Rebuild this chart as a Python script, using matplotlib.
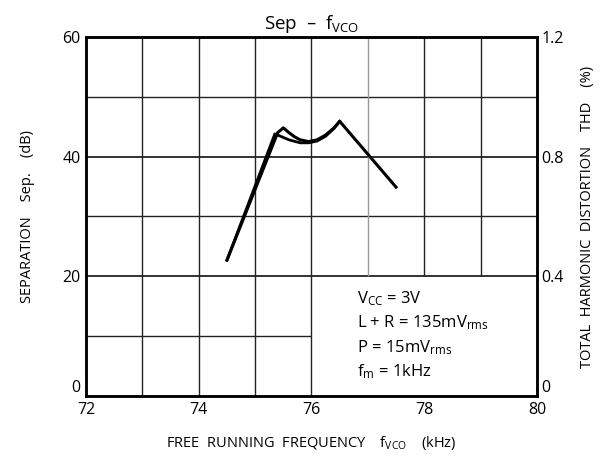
import numpy as np
import matplotlib
matplotlib.use("Agg")
import matplotlib.pyplot as plt

plt.rcParams['font.family'] = ['Open Sans', 'DejaVu Sans']
plt.rcParams['mathtext.default'] = 'regular'

# curve (drawn twice in the original, slightly offset near the first peak)
freq_a = [74.5, 75.4, 75.5, 75.6, 75.7, 75.8, 75.95, 76.1, 76.25, 76.4, 76.5, 77.5]
sep_a = [22.7, 44.0, 44.8, 44.0, 43.3, 42.8, 42.5, 42.8, 43.6, 44.8, 45.9, 34.9]
freq_b = [74.5, 75.35, 75.45, 75.6, 75.8, 75.95, 76.1, 76.25, 76.4, 76.5]
sep_b = [22.7, 43.8, 43.4, 42.8, 42.3, 42.3, 42.6, 43.4, 44.7, 45.9]

x_ticks = [72, 74, 76, 78, 80]
y_ticks = [0, 20, 40, 60]
thd_ticks = [0, 0.4, 0.8, 1.2]
thd_labels = ["0", "0.4", "0.8", "1.2"]

conditions = [r"$V_{CC}$ = 3V",
              r"L + R = 135m$V_{rms}$",
              r"P = 15m$V_{rms}$",
              r"$f_m$ = 1kHz"]

fig = plt.figure(figsize=(6.15, 4.61), dpi=100)
ax = fig.add_axes([0.14, 0.141, 0.733, 0.779])
ax.set_xlim(72, 80)
ax.set_ylim(0, 60)

# grid (partial lines where the condition box sits)
gc = '#222222'
ax.hlines([20, 40], 72, 80, color=gc, lw=1.3, zorder=1)
ax.hlines([30, 50], 72, 80, color=gc, lw=1.0, zorder=1)
ax.hlines([10], 72, 76, color=gc, lw=1.0, zorder=1)
ax.vlines([73, 74, 75, 76], 0, 60, color=gc, lw=1.0, zorder=1)
ax.vlines([77], 20, 60, color='#999999', lw=1.0, zorder=1)
ax.vlines([78, 79], 20, 60, color=gc, lw=1.0, zorder=1)

ax.plot(freq_a, sep_a, color='black', lw=2.2, zorder=3, solid_joinstyle='round')
ax.plot(freq_b, sep_b, color='black', lw=2.0, zorder=3, solid_joinstyle='round')

ax.set_xticks(x_ticks)
ax.set_yticks(y_ticks)
ax.tick_params(length=0, labelsize=11.5, pad=4)
for s in ax.spines.values():
    s.set_linewidth(1.8)

ax2 = ax.twinx()
ax2.set_ylim(0, 1.2)
ax2.set_yticks(thd_ticks)
ax2.set_yticklabels(thd_labels)
ax2.tick_params(length=0, labelsize=11.5, pad=3)
for s in ax2.spines.values():
    s.set_linewidth(1.8)

# the "0" labels sit just above the bottom edge, as in the original
ax.get_yticklabels()[0].set_verticalalignment('bottom')
ax2.get_yticklabels()[0].set_verticalalignment('bottom')

ax.set_title(r"Sep  –  $f_{VCO}$", fontsize=13.5, pad=6)
ax.set_xlabel(r"FREE  RUNNING  FREQUENCY    $f_{VCO}$    (kHz)", fontsize=10.5, labelpad=12)
ax.set_ylabel("SEPARATION    Sep.    (dB)", fontsize=10.5, labelpad=20)
ax2.set_ylabel("TOTAL  HARMONIC  DISTORTION    THD    (%)", fontsize=10.5, labelpad=12)

for i, t in enumerate(conditions):
    ax.text(76.8, 16.3 - i * 4.1, t, fontsize=12, va='center', ha='left')

fig.savefig("out.png", dpi=100)
